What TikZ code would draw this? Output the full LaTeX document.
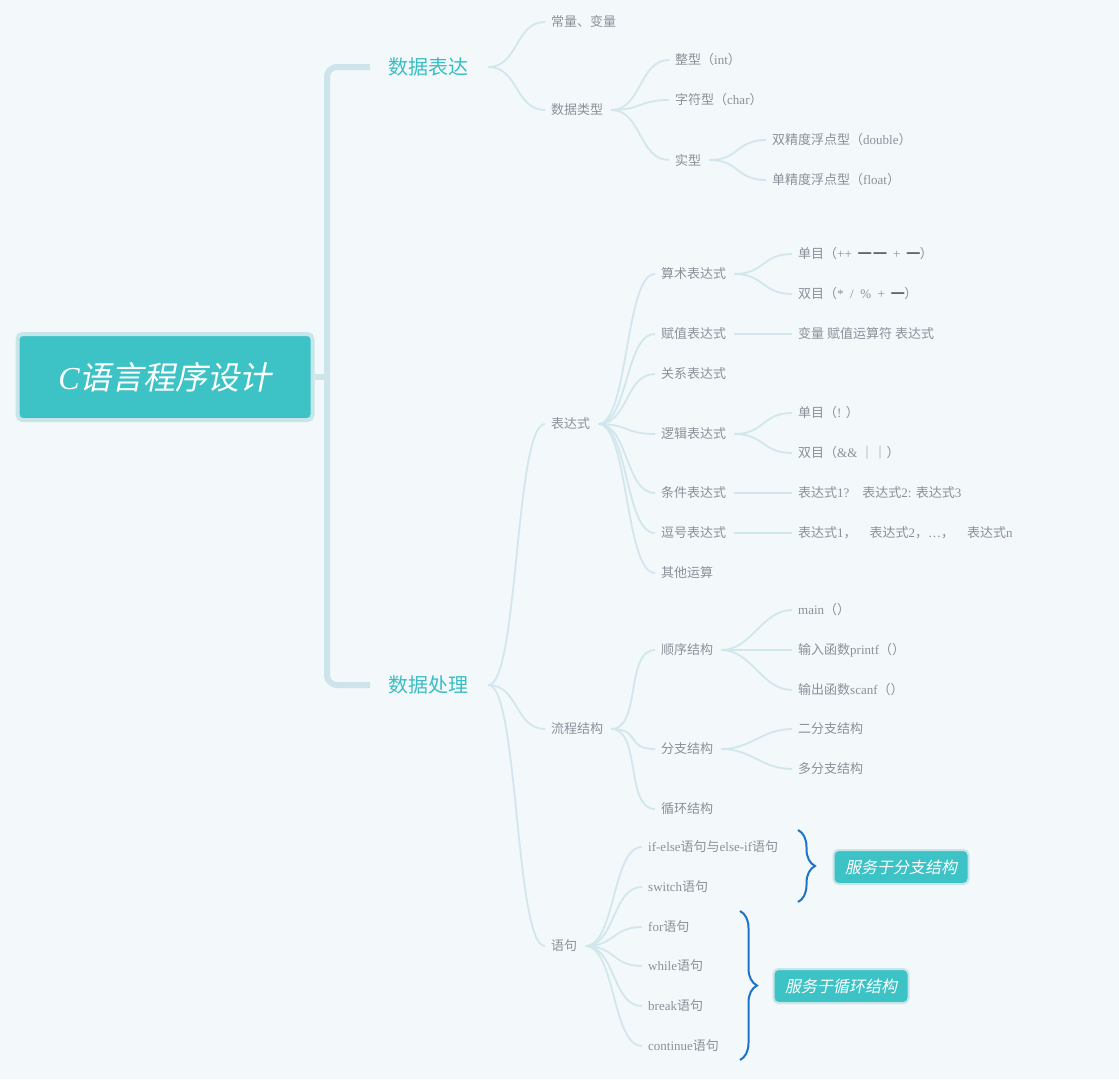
\documentclass[tikz,border=0pt]{standalone}
\usepackage{fontspec}
\usepackage{tikz}
\usetikzlibrary{decorations.pathreplacing}
\setmainfont{Liberation Serif}
\newfontfamily\latfont{Liberation Serif}
\newfontfamily\cjkfont{Noto Sans CJK SC}[ItalicFont={Noto Sans CJK SC},ItalicFeatures={FakeSlant=0.2}]
% CJK characters switch to the sans CJK face, latin back to serif
\XeTeXinterchartokenstate=1
\newXeTeXintercharclass\cjkclass
\newcount\cjkcnt
\newcommand\cjkrange[2]{\cjkcnt=#1 \loop\XeTeXcharclass\cjkcnt=\cjkclass
  \advance\cjkcnt by 1 \ifnum\cjkcnt<#2 \repeat}
\cjkrange{"2500}{"2580}
\cjkrange{"3000}{"3040}
\cjkrange{"4E00}{"A000}
\cjkrange{"FF00}{"FFF0}
\XeTeXinterchartoks 0 \cjkclass = {\cjkfont}
\XeTeXinterchartoks 4095 \cjkclass = {\cjkfont}
\XeTeXinterchartoks \cjkclass 0 = {\latfont}
\XeTeXinterchartoks 4095 0 = {\latfont}
\definecolor{bgcol}{HTML}{F3F8FA}
\definecolor{linkblue}{HTML}{D2E7ED}
\definecolor{trunkblue}{HTML}{CDE4EA}
\definecolor{boxteal}{HTML}{3DC2C5}
\definecolor{boxhalo}{HTML}{C6E6EA}
\definecolor{topicteal}{HTML}{3BBEC3}
\definecolor{leafgray}{HTML}{8C909A}
\definecolor{dashgray}{HTML}{4A4D55}
\definecolor{braceblue}{HTML}{1D74C6}
\tikzset{
  leaf/.style={anchor=west, inner xsep=0pt, inner ysep=2pt, text=leafgray, font=\fontsize{13}{15}\selectfont},
  topic/.style={anchor=west, inner xsep=0pt, inner ysep=2pt, text=topicteal, font=\fontsize{20}{24}\selectfont},
  link/.style={draw=linkblue, line width=1.8pt},
  trunkline/.style={draw=trunkblue, line width=6pt},
  rootbox/.style={fill=boxteal, draw=boxhalo, line width=4pt, rounded corners=5pt, text=white,
    font=\itshape\fontsize{32}{38}\selectfont, minimum width=295pt, minimum height=86pt},
  tagbox/.style={fill=boxteal, draw=boxhalo, line width=2pt, rounded corners=5pt, text=white,
    font=\itshape\fontsize{16}{19}\selectfont, minimum width=135pt, minimum height=34pt},
  curly/.style={draw=braceblue, line width=2pt, decorate, decoration={brace, amplitude=17pt}}
}
\begin{document}
\begin{tikzpicture}[x=1pt, y=-1pt]
  \fill[bgcol] (0,0) rectangle (1119,1079);
  \useasboundingbox (0,0) rectangle (1119,1079);

  \node[rootbox] (root) at (165,377) {C语言程序设计};
  \coordinate (hub) at (327,377);

  \node[topic] (dexp) at (388,67) {数据表达};
  \node[topic] (dproc) at (388,685) {数据处理};

  % data representation
  \node[leaf] (cvar) at (551,22) {常量、变量};
  \node[leaf] (dtype) at (551,110) {数据类型};
  \node[leaf] (tint) at (675,60) {整型（int）};
  \node[leaf] (tchar) at (675,100) {字符型（char）};
  \node[leaf] (treal) at (675,160) {实型};
  \node[leaf] (tdbl) at (772,140) {双精度浮点型（double）};
  \node[leaf] (tflt) at (772,180) {单精度浮点型（float）};

  % expressions
  \node[leaf] (expr) at (551,424) {表达式};
  \node[leaf] (arith) at (661,274) {算术表达式};
  \node[leaf] (unary) at (798,254) {单目（++\ \ \textcolor{dashgray}{\bfseries━\,━}\ \ +\ \ \textcolor{dashgray}{\bfseries━}{\cjkfont ）}};
  \node[leaf] (binary) at (798,294) {双目（*\ \ /\ \ \%\ \ +\ \ \textcolor{dashgray}{\bfseries━}{\cjkfont ）}};
  \node[leaf] (assign) at (661,334) {赋值表达式};
  \node[leaf] (assignf) at (798,334) {变量 赋值运算符 表达式};
  \node[leaf] (rel) at (661,374) {关系表达式};
  \node[leaf] (logic) at (661,434) {逻辑表达式};
  \node[leaf] (lnot) at (798,413) {单目（! ）};
  \node[leaf] (land) at (798,453) {双目（\&\& ｜｜）};
  \node[leaf] (cond) at (661,493) {条件表达式};
  \node[leaf] (condf) at (798,493) {表达式1?　表达式2: 表达式3};
  \node[leaf] (comma) at (661,533) {逗号表达式};
  \node[leaf] (commaf) at (798,533) {表达式1，　表达式2，…，　表达式n};
  \node[leaf] (other) at (661,573) {其他运算};

  % control flow
  \node[leaf] (flow) at (551,729) {流程结构};
  \node[leaf] (seq) at (661,650) {顺序结构};
  \node[leaf] (smain) at (798,610) {main（）};
  \node[leaf] (sin) at (798,650) {输入函数printf（）};
  \node[leaf] (sout) at (798,690) {输出函数scanf（）};
  \node[leaf] (branch) at (661,749) {分支结构};
  \node[leaf] (btwo) at (798,729) {二分支结构};
  \node[leaf] (bmulti) at (798,769) {多分支结构};
  \node[leaf] (loopst) at (661,809) {循环结构};

  % statements
  \node[leaf] (stmt) at (551,946) {语句};
  \node[leaf] (sif) at (648,847) {if-else语句与else-if语句};
  \node[leaf] (sswitch) at (648,887) {switch语句};
  \node[leaf] (sfor) at (648,927) {for语句};
  \node[leaf] (swhile) at (648,966) {while语句};
  \node[leaf] (sbreak) at (648,1006) {break语句};
  \node[leaf] (scont) at (648,1046) {continue语句};

  \draw[trunkline, rounded corners=10pt] ([xshift=-18pt]dexp.west) -| (hub) |- ([xshift=-18pt]dproc.west);
  \draw[trunkline] (root.east) -- (hub);

  \foreach \a/\b in {dexp/cvar, dexp/dtype, dproc/expr, dproc/flow, dproc/stmt}
    \draw[link] ([xshift=20pt]\a.east) to[out=0,in=180,distance=30pt] ([xshift=-6pt]\b.west);
  \foreach \a/\b in {dtype/tint, dtype/tchar, dtype/treal, treal/tdbl, treal/tflt,
      expr/arith, expr/assign, expr/rel, expr/logic, expr/cond, expr/comma, expr/other,
      arith/unary, arith/binary, assign/assignf, logic/lnot, logic/land,
      cond/condf, comma/commaf,
      flow/seq, flow/branch, flow/loopst, seq/smain, seq/sin, seq/sout,
      branch/btwo, branch/bmulti,
      stmt/sif, stmt/sswitch, stmt/sfor, stmt/swhile, stmt/sbreak, stmt/scont}
    \draw[link] ([xshift=8pt]\a.east) to[out=0,in=180,distance=30pt] ([xshift=-6pt]\b.west);

  \draw[curly] (798,830) -- (798,902);
  \draw[curly] (740,911) -- (740,1060);
  \node[tagbox] (forbranch) at (901,867) {服务于分支结构};
  \node[tagbox] (forloop) at (841,986) {服务于循环结构};
\end{tikzpicture}
\end{document}
